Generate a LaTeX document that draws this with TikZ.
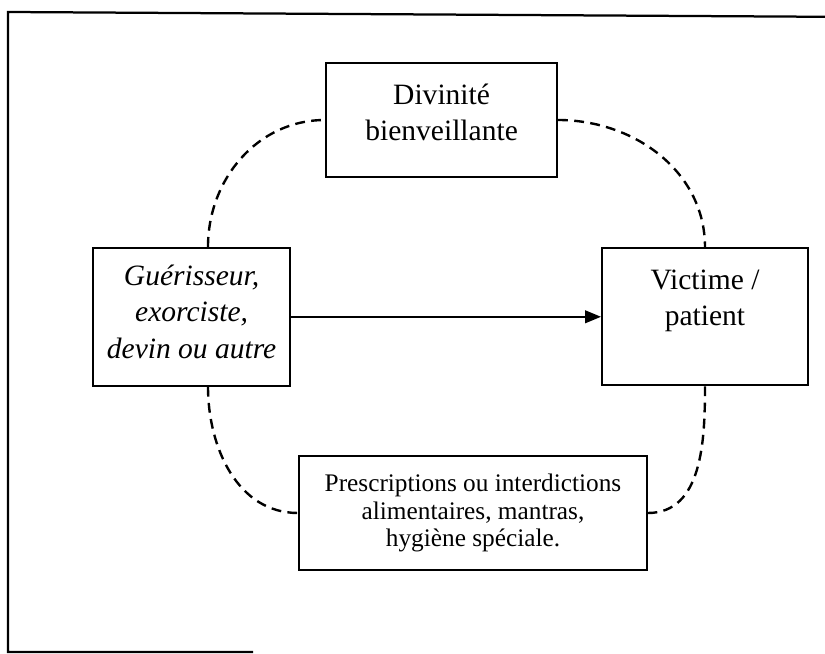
\documentclass[tikz,border=0pt]{standalone}
\usepackage{fontspec}
\setmainfont{Liberation Serif}
\usetikzlibrary{arrows.meta,positioning,calc}

\begin{document}
\begin{tikzpicture}[
	box/.style={draw, line width=1.4pt, align=center, inner sep=0pt},
	link/.style={line width=1.7pt, dash pattern=on 7pt off 4.5pt},
	big/.style={font=\fontsize{21}{25.8}\selectfont},
	small/.style={font=\fontsize{18}{19.6}\selectfont}]

	\useasboundingbox (0,0) rectangle (20.625,-16.35);

	% Frame
	\draw[line width=1.6pt] (20.625,-0.42) -- (0.2,-0.3) -- (0.2,-16.3) -- (6.325,-16.3);

	% Boxes
	\node[box, big, minimum width=5.775cm, minimum height=2.85cm] (divin) at (11.04,-3.0) {Divinité\\bienveillante\\[-22pt]\strut};
	\node[box, big, minimum width=4.925cm, minimum height=3.45cm] (guer) at (4.79,-7.92) {\itshape Guérisseur,\\\itshape exorciste,\\\itshape devin ou autre\\[-26pt]\strut};
	\node[box, big, minimum width=5.15cm, minimum height=3.43cm] (vict) at (17.625,-7.92) {Victime /\\patient\\[-6pt]\strut};
	\node[box, small, minimum width=8.7cm, minimum height=2.85cm] (presc) at (11.825,-12.825) {Prescriptions ou interdictions\\alimentaires, mantras,\\hygiène spéciale.};

	% Action
	\draw[line width=1.2pt, -{Triangle[length=0.4cm,width=0.32cm]}] (guer) -- (vict);

	% Dashed links
	\coordinate (guertop) at ($(guer.north)+(0.41,0)$);
	\coordinate (guerbot) at ($(guer.south)+(0.41,0)$);
	\draw[link] (guertop) to[out=90,in=180] (divin.west);
	\draw[link] (divin.east) to[out=0,in=90] (vict.north);
	\draw[link] (guerbot) to[out=-90,in=180] (presc.west);
	\draw[link] (vict.south) to[out=-90,in=0] (presc.east);
\end{tikzpicture}
\end{document}
